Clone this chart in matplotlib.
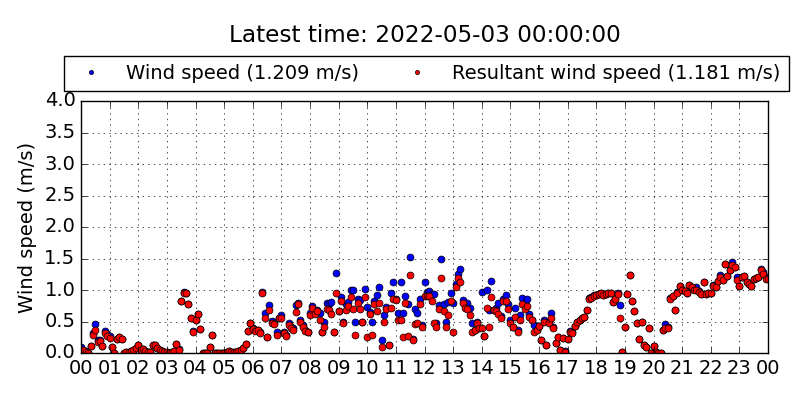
#!/usr/bin/env python3
# -*- coding: utf-8 -*-
"""Wind speed vs resultant wind speed, 5-minute samples over one day."""
import numpy as np
import matplotlib
matplotlib.use('Agg')
import matplotlib.pyplot as plt

# 5-minute samples, 12 per hour, plus the final 00:00 sample
wind_speed = [
    0.10, 0.05, 0.03, 0.00, 0.11, 0.32, 0.46, 0.21, 0.20, 0.11, 0.35, 0.30,  # 00
    0.27, 0.10, 0.00, 0.22, 0.26, 0.23, 0.00, 0.01, 0.02, 0.03, 0.05, 0.08,  # 01
    0.12, 0.05, 0.06, 0.03, 0.01, 0.01, 0.13, 0.12, 0.08, 0.05, 0.03, 0.02,  # 02
    0.02, 0.00, 0.02, 0.03, 0.14, 0.06, 0.82, 0.97, 0.96, 0.78, 0.56, 0.35,  # 03
    0.52, 0.62, 0.38, 0.00, 0.00, 0.00, 0.10, 0.29, 0.00, 0.00, 0.00, 0.00,  # 04
    0.00, 0.01, 0.03, 0.02, 0.01, 0.02, 0.03, 0.05, 0.08, 0.14, 0.35, 0.47,  # 05
    0.39, 0.36, 0.37, 0.33, 0.97, 0.63, 0.26, 0.76, 0.51, 0.48, 0.33, 0.56,  # 06
    0.60, 0.33, 0.28, 0.47, 0.42, 0.39, 0.76, 0.80, 0.52, 0.45, 0.36, 0.34,  # 07
    0.64, 0.75, 0.63, 0.68, 0.64, 0.34, 0.50, 0.79, 0.77, 0.81, 0.34, 1.27,  # 08
    0.66, 0.89, 0.50, 0.77, 0.81, 1.00, 1.00, 0.50, 0.86, 0.84, 0.50, 1.02,  # 09
    0.73, 0.65, 0.50, 0.82, 0.92, 1.05, 0.20, 0.60, 0.73, 0.13, 0.95, 1.12,  # 10
    0.86, 0.63, 1.12, 0.63, 0.91, 0.77, 1.52, 0.22, 0.70, 0.64, 0.86, 0.45,  # 11
    1.13, 0.97, 0.99, 0.93, 0.93, 0.47, 0.76, 1.49, 0.78, 0.50, 0.81, 0.95,  # 12
    0.80, 1.09, 1.25, 1.33, 0.84, 0.78, 0.80, 0.72, 0.47, 0.37, 0.50, 0.40,  # 13
    0.97, 0.27, 1.00, 0.69, 1.15, 0.68, 0.72, 0.80, 0.58, 0.86, 0.92, 0.78,  # 14
    0.52, 0.41, 0.72, 0.37, 0.60, 0.88, 0.80, 0.85, 0.62, 0.52, 0.45, 0.37,  # 15
    0.43, 0.20, 0.52, 0.13, 0.50, 0.63, 0.42, 0.16, 0.26, 0.04, 0.24, 0.03,  # 16
    0.22, 0.35, 0.33, 0.43, 0.50, 0.52, 0.55, 0.57, 0.68, 0.87, 0.89, 0.92,  # 17
    0.92, 0.94, 0.95, 0.92, 0.94, 0.95, 0.96, 0.81, 0.86, 0.95, 0.76, 0.02,  # 18
    0.42, 0.93, 1.24, 0.83, 0.67, 0.47, 0.23, 0.50, 0.13, 0.09, 0.39, 0.00,  # 19
    0.11, 0.02, 0.00, 0.00, 0.37, 0.46, 0.42, 0.88, 0.91, 0.68, 0.97, 1.07,  # 20
    1.00, 0.98, 0.95, 1.08, 1.04, 1.01, 1.05, 0.98, 0.94, 1.13, 0.94, 0.95,  # 21
    0.96, 1.08, 1.05, 1.14, 1.24, 1.16, 1.41, 1.22, 1.32, 1.45, 1.37, 1.20,  # 22
    1.06, 1.20, 1.23, 1.13, 1.10, 1.06, 1.18, 1.19, 1.21, 1.34, 1.28, 1.20,  # 23
    1.209,
]
resultant_speed = [
    0.05, 0.04, 0.02, 0.00, 0.11, 0.29, 0.37, 0.18, 0.19, 0.11, 0.32, 0.27,  # 00
    0.24, 0.10, 0.00, 0.22, 0.26, 0.23, 0.00, 0.01, 0.02, 0.03, 0.05, 0.08,  # 01
    0.12, 0.05, 0.06, 0.03, 0.01, 0.01, 0.13, 0.12, 0.08, 0.05, 0.03, 0.02,  # 02
    0.01, 0.00, 0.02, 0.03, 0.14, 0.04, 0.82, 0.96, 0.95, 0.78, 0.56, 0.34,  # 03
    0.52, 0.62, 0.38, 0.00, 0.00, 0.00, 0.10, 0.29, 0.00, 0.00, 0.00, 0.00,  # 04
    0.00, 0.01, 0.03, 0.02, 0.01, 0.02, 0.03, 0.05, 0.08, 0.14, 0.35, 0.47,  # 05
    0.38, 0.35, 0.36, 0.32, 0.95, 0.56, 0.25, 0.68, 0.47, 0.46, 0.29, 0.55,  # 06
    0.56, 0.31, 0.27, 0.44, 0.40, 0.37, 0.65, 0.78, 0.50, 0.42, 0.35, 0.33,  # 07
    0.60, 0.71, 0.62, 0.66, 0.52, 0.33, 0.42, 0.70, 0.68, 0.62, 0.33, 0.95,  # 08
    0.66, 0.82, 0.48, 0.69, 0.75, 0.89, 0.70, 0.29, 0.80, 0.70, 0.49, 0.89,  # 09
    0.25, 0.62, 0.28, 0.77, 0.67, 0.80, 0.10, 0.50, 0.70, 0.13, 0.72, 0.86,  # 10
    0.84, 0.52, 0.53, 0.25, 0.80, 0.27, 1.24, 0.20, 0.46, 0.48, 0.77, 0.42,  # 11
    0.90, 0.90, 0.90, 0.82, 0.48, 0.42, 0.70, 1.19, 0.66, 0.41, 0.60, 0.83,  # 12
    0.34, 1.05, 1.19, 1.12, 0.80, 0.72, 0.70, 0.60, 0.34, 0.36, 0.47, 0.39,  # 13
    0.39, 0.27, 0.72, 0.42, 0.89, 0.68, 0.66, 0.62, 0.56, 0.82, 0.82, 0.70,  # 14
    0.48, 0.41, 0.57, 0.33, 0.52, 0.77, 0.70, 0.74, 0.57, 0.52, 0.33, 0.36,  # 15
    0.43, 0.20, 0.50, 0.13, 0.48, 0.56, 0.40, 0.16, 0.26, 0.04, 0.24, 0.02,  # 16
    0.22, 0.33, 0.32, 0.43, 0.50, 0.52, 0.55, 0.57, 0.68, 0.86, 0.88, 0.91,  # 17
    0.92, 0.94, 0.95, 0.92, 0.94, 0.95, 0.96, 0.81, 0.86, 0.93, 0.55, 0.02,  # 18
    0.42, 0.93, 1.24, 0.83, 0.67, 0.47, 0.23, 0.50, 0.13, 0.09, 0.39, 0.00,  # 19
    0.11, 0.02, 0.00, 0.00, 0.37, 0.40, 0.40, 0.85, 0.90, 0.68, 0.96, 1.07,  # 20
    1.00, 0.98, 0.95, 1.08, 1.04, 1.00, 1.00, 0.97, 0.94, 1.13, 0.94, 0.95,  # 21
    0.96, 1.06, 1.05, 1.14, 1.20, 1.16, 1.41, 1.22, 1.32, 1.40, 1.37, 1.16,  # 22
    1.06, 1.20, 1.23, 1.13, 1.10, 1.06, 1.18, 1.19, 1.21, 1.31, 1.26, 1.18,  # 23
    1.181,
]
hour_labels = ['%02d' % h for h in range(24)] + ['00']
ws_label = 'Wind speed (1.209 m/s)'
rs_label = 'Resultant wind speed (1.181 m/s)'
title = 'Latest time: 2022-05-03 00:00:00'

# sample times in hours since midnight
hours = np.arange(len(wind_speed)) * 5 / 60.0

plt.style.use('classic')
plt.rcParams['figure.facecolor'] = 'white'
plt.rcParams['savefig.facecolor'] = 'white'

fig = plt.figure(figsize=(8, 4), dpi=100)
ax = fig.add_axes([0.10125, 0.1175, 0.85875, 0.63])

ax.plot(hours, wind_speed, 'o', color='b', mec='k', mew=0.5, ms=5,
        label=ws_label)
ax.plot(hours, resultant_speed, 'o', color='r', mec='k', mew=0.5, ms=5,
        label=rs_label)

ax.set_xlim(0, 24)
ax.set_ylim(0, 4.0)
ax.set_xticks(range(25))
ax.set_xticklabels(hour_labels)
ax.set_yticks(np.arange(0, 4.01, 0.5))
ax.set_yticklabels(['%.1f' % v for v in np.arange(0, 4.01, 0.5)])
ax.tick_params(labelsize=14)
ax.set_ylabel('Wind speed (m/s)', fontsize=14)
ax.grid(True, color='k', linestyle=':', linewidth=0.5)

ax.legend(loc='lower center', bbox_to_anchor=(0.5025, 1.04), ncol=2,
          numpoints=1, markerscale=0.6, fontsize=14, borderaxespad=0.,
          handletextpad=0.8, columnspacing=2.0, fancybox=False)
# title centred over the axes, not the figure
fig.text(0.5306, 0.9125, title, fontsize=16.7, ha='center', va='center')

fig.savefig('out.png', dpi=100)
